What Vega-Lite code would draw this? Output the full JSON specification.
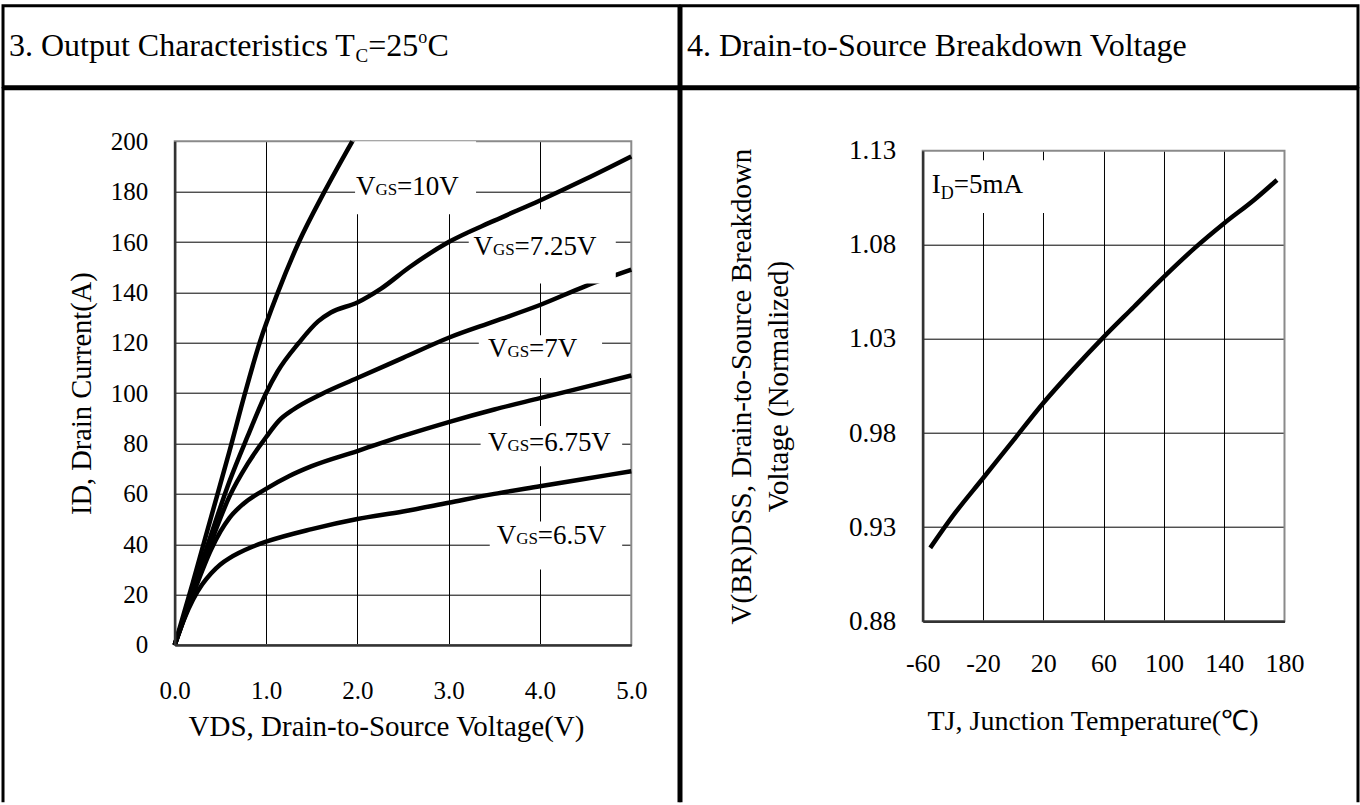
{
  "$schema": "https://vega.github.io/schema/vega-lite/v6.json",
  "background": "white",
  "padding": {"left": 1, "top": 3.7, "right": 0, "bottom": 0},
  "spacing": -6,
  "config": {
    "font": "Liberation Serif",
    "view": {"stroke": "black", "strokeWidth": 3},
    "text": {"font": "Liberation Serif", "color": "black"},
    "axis": {
      "labelFont": "Liberation Serif", "titleFont": "Liberation Serif",
      "labelColor": "black", "titleColor": "black", "titleFontWeight": "normal",
      "ticks": false, "tickSize": 0, "gridColor": "black", "gridWidth": 1, "gridOpacity": 1,
      "domainColor": "#333333", "domainWidth": 2.5,
      "labelFlush": false, "labelOverlap": false, "labelBound": false
    }
  },
  "datasets": {
    "curves": [
      {"g": "10V", "v": 0, "i": 0}, {"g": "10V", "v": 0.2, "i": 25}, {"g": "10V", "v": 0.4, "i": 51}, {"g": "10V", "v": 0.6, "i": 77}, {"g": "10V", "v": 0.77, "i": 100}, {"g": "10V", "v": 0.93, "i": 120}, {"g": "10V", "v": 1.13, "i": 140}, {"g": "10V", "v": 1.36, "i": 160}, {"g": "10V", "v": 1.64, "i": 180}, {"g": "10V", "v": 1.945, "i": 200},
      {"g": "7.25V", "v": 0, "i": 0}, {"g": "7.25V", "v": 0.2, "i": 22}, {"g": "7.25V", "v": 0.4, "i": 44}, {"g": "7.25V", "v": 0.6, "i": 65}, {"g": "7.25V", "v": 0.8, "i": 83}, {"g": "7.25V", "v": 1.0, "i": 100}, {"g": "7.25V", "v": 1.125, "i": 108.5}, {"g": "7.25V", "v": 1.36, "i": 120}, {"g": "7.25V", "v": 1.57, "i": 128.5}, {"g": "7.25V", "v": 1.71, "i": 132}, {"g": "7.25V", "v": 2.0, "i": 136}, {"g": "7.25V", "v": 2.26, "i": 141.5}, {"g": "7.25V", "v": 2.57, "i": 150}, {"g": "7.25V", "v": 3.0, "i": 160}, {"g": "7.25V", "v": 3.5, "i": 168.5}, {"g": "7.25V", "v": 4.0, "i": 176.5}, {"g": "7.25V", "v": 4.5, "i": 185}, {"g": "7.25V", "v": 5.0, "i": 194},
      {"g": "7V", "v": 0, "i": 0}, {"g": "7V", "v": 0.2, "i": 21}, {"g": "7V", "v": 0.4, "i": 41}, {"g": "7V", "v": 0.6, "i": 59}, {"g": "7V", "v": 0.8, "i": 72}, {"g": "7V", "v": 1.0, "i": 82.5}, {"g": "7V", "v": 1.14, "i": 89}, {"g": "7V", "v": 1.3, "i": 93.5}, {"g": "7V", "v": 1.6, "i": 99.5}, {"g": "7V", "v": 2.0, "i": 106}, {"g": "7V", "v": 2.5, "i": 114}, {"g": "7V", "v": 3.0, "i": 122}, {"g": "7V", "v": 3.5, "i": 128.5}, {"g": "7V", "v": 4.0, "i": 135}, {"g": "7V", "v": 4.5, "i": 142.5}, {"g": "7V", "v": 5.0, "i": 149},
      {"g": "6.75V", "v": 0, "i": 0}, {"g": "6.75V", "v": 0.2, "i": 20}, {"g": "6.75V", "v": 0.4, "i": 38}, {"g": "6.75V", "v": 0.5, "i": 45}, {"g": "6.75V", "v": 0.6, "i": 50.5}, {"g": "6.75V", "v": 0.75, "i": 56}, {"g": "6.75V", "v": 1.0, "i": 62}, {"g": "6.75V", "v": 1.25, "i": 67}, {"g": "6.75V", "v": 1.5, "i": 71}, {"g": "6.75V", "v": 2.0, "i": 77}, {"g": "6.75V", "v": 2.5, "i": 83}, {"g": "6.75V", "v": 3.0, "i": 88.5}, {"g": "6.75V", "v": 3.5, "i": 93.5}, {"g": "6.75V", "v": 4.0, "i": 98}, {"g": "6.75V", "v": 4.5, "i": 102.5}, {"g": "6.75V", "v": 5.0, "i": 107},
      {"g": "6.5V", "v": 0, "i": 0}, {"g": "6.5V", "v": 0.1, "i": 10}, {"g": "6.5V", "v": 0.2, "i": 18}, {"g": "6.5V", "v": 0.3, "i": 24}, {"g": "6.5V", "v": 0.4, "i": 28.5}, {"g": "6.5V", "v": 0.5, "i": 32}, {"g": "6.5V", "v": 0.6, "i": 34.5}, {"g": "6.5V", "v": 0.7, "i": 36.5}, {"g": "6.5V", "v": 0.85, "i": 39}, {"g": "6.5V", "v": 1.0, "i": 41}, {"g": "6.5V", "v": 1.5, "i": 46}, {"g": "6.5V", "v": 2.0, "i": 50}, {"g": "6.5V", "v": 2.5, "i": 53}, {"g": "6.5V", "v": 3.0, "i": 56.5}, {"g": "6.5V", "v": 3.5, "i": 60}, {"g": "6.5V", "v": 4.0, "i": 63}, {"g": "6.5V", "v": 4.5, "i": 66}, {"g": "6.5V", "v": 5.0, "i": 69}
    ],
    "labels": [
      {"x": 1.985, "y": 178.5, "rest": "=10V"},
      {"x": 3.273, "y": 155, "rest": "=7.25V"},
      {"x": 3.43, "y": 114.5, "rest": "=7V"},
      {"x": 3.43, "y": 76.9, "rest": "=6.75V"},
      {"x": 3.527, "y": 40, "rest": "=6.5V"}
    ],
    "boxes": [
      {"x1": 1.975, "x2": 3.3, "y1": 171, "y2": 200},
      {"x1": 3.22, "x2": 4.83, "y1": 143.5, "y2": 163},
      {"x1": 3.9, "x2": 4.83, "y1": 161, "y2": 173},
      {"x1": 3.33, "x2": 4.68, "y1": 106, "y2": 123},
      {"x1": 3.35, "x2": 4.9, "y1": 71, "y2": 87},
      {"x1": 3.45, "x2": 4.9, "y1": 30, "y2": 49}
    ],
    "bv": [
      {"t": -55, "v": 0.919}, {"t": -40, "v": 0.936}, {"t": -20, "v": 0.956}, {"t": 0, "v": 0.976}, {"t": 20, "v": 0.996}, {"t": 40, "v": 1.014}, {"t": 60, "v": 1.031}, {"t": 80, "v": 1.047}, {"t": 100, "v": 1.063}, {"t": 120, "v": 1.078}, {"t": 140, "v": 1.0915}, {"t": 160, "v": 1.104}, {"t": 175, "v": 1.1145}
    ],
    "ann2": [{"t": -54, "v": 1.1075, "rest": "=5mA"}],
    "boxes2": [{"x1": -58, "x2": 30, "y1": 1.097, "y2": 1.125}],
    "one": [{"k": 1}]
  },
  "hconcat": [
    {
      "spacing": -6,
      "vconcat": [
        {
          "width": 676, "height": 81,
          "view": {"stroke": "black", "strokeWidth": 3},
          "data": {"name": "one"},
          "encoding": {
            "x": {"datum": 0, "type": "quantitative", "scale": {"domain": [0, 1]}, "axis": null},
            "y": {"datum": 0.379, "type": "quantitative", "scale": {"domain": [0, 1]}, "axis": null}
          },
          "layer": [
            {"mark": {"type": "text", "align": "left", "baseline": "alphabetic", "fontSize": 32, "dx": 6, "text": "3. Output Characteristics T"}},
            {"mark": {"type": "text", "align": "left", "baseline": "alphabetic", "fontSize": 19, "dx": 352.6, "dy": 6, "text": "C"}},
            {"mark": {"type": "text", "align": "left", "baseline": "alphabetic", "fontSize": 32, "dx": 365.3, "text": "=25"}},
            {"mark": {"type": "text", "align": "left", "baseline": "alphabetic", "fontSize": 18, "dx": 415.3, "dy": -13, "text": "o"}},
            {"mark": {"type": "text", "align": "left", "baseline": "alphabetic", "fontSize": 32, "dx": 424.5, "text": "C"}}
          ]
        },
        {
          "width": 676, "height": 713.5,
          "view": {"stroke": "black", "strokeWidth": 3, "strokeDash": [1389.5, 676, 723.5, 0]},
          "resolve": {"axis": {"x": "independent", "y": "independent"}},
          "layer": [
            {
              "data": {"name": "one"},
              "mark": {"type": "rect", "filled": false, "stroke": "#8a8a8a", "strokeWidth": 2},
              "encoding": {
                "x": {"datum": 0, "type": "quantitative",
                      "scale": {"domain": [0, 5], "range": [171.7, 628.3], "nice": false, "zero": false},
                      "axis": {"orient": "top", "grid": true, "values": [1, 2, 3, 4], "labels": false, "domain": false, "title": null, "zindex": 0}},
                "x2": {"datum": 5},
                "y": {"datum": 0, "type": "quantitative",
                      "scale": {"domain": [0, 200], "range": [556.3, 52.6], "nice": false, "zero": false},
                      "axis": {"orient": "left", "grid": true, "values": [20, 40, 60, 80, 100, 120, 140, 160, 180], "labels": false, "domain": false, "title": null, "zindex": 0}},
                "y2": {"datum": 200}
              }
            },
            {
              "data": {"name": "curves"},
              "mark": {"type": "line", "color": "black", "strokeWidth": 4.5, "interpolate": "monotone", "strokeJoin": "round"},
              "encoding": {
                "x": {"field": "v", "type": "quantitative",
                      "axis": {"orient": "bottom", "offset": -157.2, "grid": false, "values": [0, 1, 2, 3, 4, 5], "format": ".1f",
                               "labelFontSize": 25, "labelPadding": 34, "title": "VDS, Drain-to-Source Voltage(V)", "titleFontSize": 29, "titlePadding": 9, "titleX": 383, "zindex": 1}},
                "y": {"field": "i", "type": "quantitative",
                      "axis": {"orient": "left", "offset": -171.7, "grid": false, "values": [0, 20, 40, 60, 80, 100, 120, 140, 160, 180, 200],
                               "labelFontSize": 25, "labelPadding": 27, "title": "ID, Drain Current(A)", "titleFontSize": 28.5, "titlePadding": 14, "zindex": 1}},
                "detail": {"field": "g"}
              }
            },
            {
              "data": {"name": "boxes"},
              "mark": {"type": "rect", "fill": "white"},
              "encoding": {
                "x": {"field": "x1", "type": "quantitative", "axis": null},
                "x2": {"field": "x2"},
                "y": {"field": "y1", "type": "quantitative", "axis": null},
                "y2": {"field": "y2"}
              }
            },
            {
              "data": {"name": "labels"},
              "mark": {"type": "text", "align": "left", "baseline": "alphabetic", "fontSize": 27, "text": "V"},
              "encoding": {
                "x": {"field": "x", "type": "quantitative", "axis": null},
                "y": {"field": "y", "type": "quantitative", "axis": null}
              }
            },
            {
              "data": {"name": "labels"},
              "mark": {"type": "text", "align": "left", "baseline": "alphabetic", "fontSize": 17, "dx": 19.5, "text": "GS"},
              "encoding": {
                "x": {"field": "x", "type": "quantitative", "axis": null},
                "y": {"field": "y", "type": "quantitative", "axis": null}
              }
            },
            {
              "data": {"name": "labels"},
              "mark": {"type": "text", "align": "left", "baseline": "alphabetic", "fontSize": 27, "dx": 41},
              "encoding": {
                "x": {"field": "x", "type": "quantitative", "axis": null},
                "y": {"field": "y", "type": "quantitative", "axis": null},
                "text": {"field": "rest"}
              }
            }
          ]
        }
      ]
    },
    {
      "spacing": -6,
      "vconcat": [
        {
          "width": 677, "height": 81,
          "view": {"stroke": "black", "strokeWidth": 3},
          "data": {"name": "one"},
          "mark": {"type": "text", "align": "left", "baseline": "alphabetic", "fontSize": 32, "dx": 6, "text": "4. Drain-to-Source Breakdown Voltage"},
          "encoding": {
            "x": {"datum": 0, "type": "quantitative", "scale": {"domain": [0, 1]}, "axis": null},
            "y": {"datum": 0.379, "type": "quantitative", "scale": {"domain": [0, 1]}, "axis": null}
          }
        },
        {
          "width": 677, "height": 713.5,
          "view": {"stroke": "black", "strokeWidth": 3, "strokeDash": [1390.5, 677, 723.5, 0]},
          "resolve": {"axis": {"x": "independent", "y": "independent"}},
          "layer": [
            {
              "data": {"name": "one"},
              "mark": {"type": "rect", "filled": false, "stroke": "#8a8a8a", "strokeWidth": 2},
              "encoding": {
                "x": {"datum": -60, "type": "quantitative",
                      "scale": {"domain": [-60, 180], "range": [241.7, 603.5], "nice": false, "zero": false},
                      "axis": {"orient": "top", "grid": true, "values": [-20, 20, 60, 100, 140], "labels": false, "domain": false, "title": null, "zindex": 0}},
                "x2": {"datum": 180},
                "y": {"datum": 0.88, "type": "quantitative",
                      "scale": {"domain": [0.88, 1.13], "range": [532.6, 62.1], "nice": false, "zero": false},
                      "axis": {"orient": "left", "grid": true, "values": [0.93, 0.98, 1.03, 1.08], "labels": false, "domain": false, "title": null, "zindex": 0}},
                "y2": {"datum": 1.13}
              }
            },
            {
              "data": {"name": "bv"},
              "mark": {"type": "line", "color": "black", "strokeWidth": 4.5, "interpolate": "monotone"},
              "encoding": {
                "x": {"field": "t", "type": "quantitative",
                      "axis": {"orient": "bottom", "offset": -180.9, "grid": false, "values": [-60, -20, 20, 60, 100, 140, 180], "labelExpr": "datum.value + ''",
                               "labelFontSize": 26, "labelPadding": 29, "title": "TJ, Junction Temperature(℃)", "titleFontSize": 28, "titlePadding": 31, "titleX": 411.5, "zindex": 1}},
                "y": {"field": "v", "type": "quantitative",
                      "axis": {"orient": "left", "offset": -241.7, "grid": false, "values": [0.88, 0.93, 0.98, 1.03, 1.08, 1.13], "format": ".2f",
                               "labelFontSize": 27, "labelPadding": 27, "title": ["V(BR)DSS, Drain-to-Source Breakdown", "Voltage (Normalized)"],
                               "titleFontSize": 29, "titleLineHeight": 37, "titlePadding": 55, "zindex": 1}}
              }
            },
            {
              "data": {"name": "boxes2"},
              "mark": {"type": "rect", "fill": "white"},
              "encoding": {
                "x": {"field": "x1", "type": "quantitative", "axis": null},
                "x2": {"field": "x2"},
                "y": {"field": "y1", "type": "quantitative", "axis": null},
                "y2": {"field": "y2"}
              }
            },
            {
              "data": {"name": "ann2"},
              "mark": {"type": "text", "align": "left", "baseline": "alphabetic", "fontSize": 27, "text": "I"},
              "encoding": {
                "x": {"field": "t", "type": "quantitative", "axis": null},
                "y": {"field": "v", "type": "quantitative", "axis": null}
              }
            },
            {
              "data": {"name": "ann2"},
              "mark": {"type": "text", "align": "left", "baseline": "alphabetic", "fontSize": 18, "dx": 9, "dy": 6, "text": "D"},
              "encoding": {
                "x": {"field": "t", "type": "quantitative", "axis": null},
                "y": {"field": "v", "type": "quantitative", "axis": null}
              }
            },
            {
              "data": {"name": "ann2"},
              "mark": {"type": "text", "align": "left", "baseline": "alphabetic", "fontSize": 27, "dx": 22},
              "encoding": {
                "x": {"field": "t", "type": "quantitative", "axis": null},
                "y": {"field": "v", "type": "quantitative", "axis": null},
                "text": {"field": "rest"}
              }
            }
          ]
        }
      ]
    }
  ]
}
